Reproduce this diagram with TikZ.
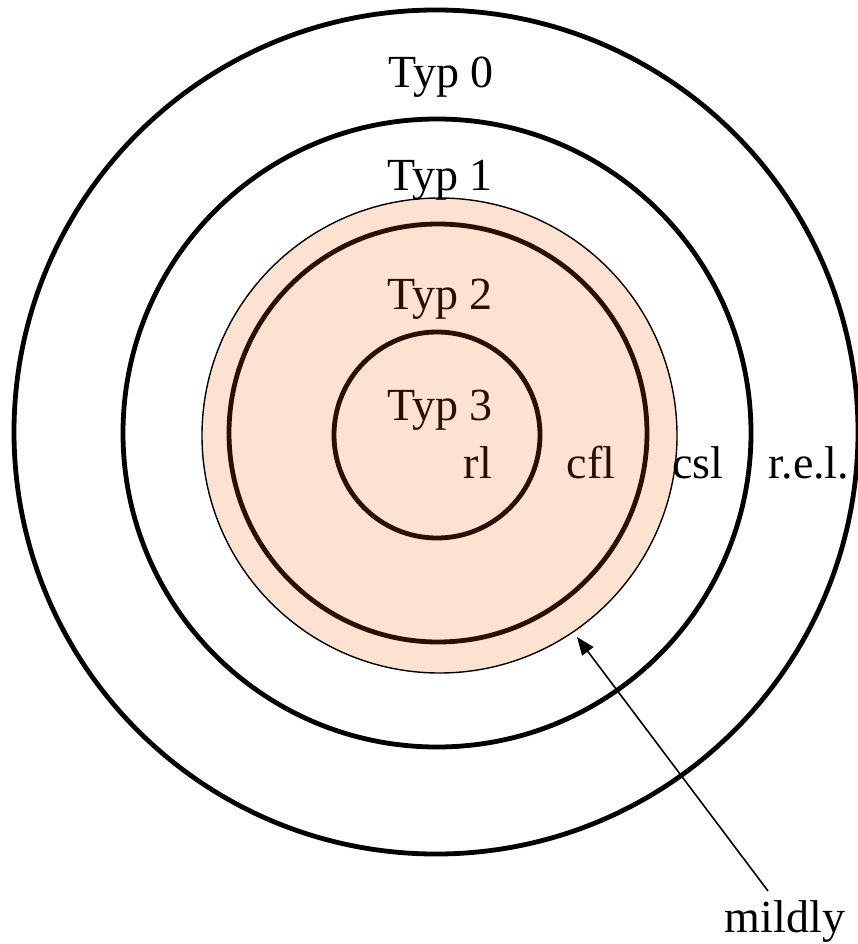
\documentclass[tikz,border=0pt]{standalone}
\usepackage{fontspec}
\setmainfont{Liberation Serif}
\usetikzlibrary{arrows.meta}
\definecolor{peach}{RGB}{253,226,210}
\definecolor{darkbrown}{RGB}{42,16,0}
\tikzset{
  ring/.style={draw=black, line width=4.8pt},
  brownring/.style={draw=darkbrown, line width=4.8pt},
  lbl/.style={font=\fontsize{46}{46}\selectfont, inner sep=0pt, anchor=base},
  brownlbl/.style={lbl, text=darkbrown},
  pointer/.style={line width=1.6pt, -{Triangle[length=18pt,width=14pt]}}
}
\begin{document}
\begin{tikzpicture}[x=1pt,y=-1pt]
\useasboundingbox (0,0) rectangle (858,944);
\fill[white] (0,0) rectangle (858,944);
% rings
\draw[ring] (436,432) circle[radius=422];
\draw[ring] (437,433) circle[radius=314];
\draw[fill=peach, draw=black, line width=1.4pt] (439.5,435.5) circle[radius=237.5];
\draw[brownring] (438,433) circle[radius=209];
\draw[brownring] (437,435) circle[radius=103];
% labels
\node[lbl] (typ0) at (441,88) {Typ 0};
\node[lbl] (typ1) at (440,190) {Typ 1};
\node[brownlbl] (typ2) at (440,309) {Typ 2};
\node[brownlbl] (typ3) at (440,420) {Typ 3};
\node[brownlbl] (rl) at (478,478) {rl};
\node[brownlbl] (cfl) at (591,478) {cfl};
\node[lbl] (csl) at (698,478) {csl};
\node[lbl] (rel) at (809,478) {r.e.l.};
\node[lbl] (mildly) at (785,932) {mildly};
% pointer
\coordinate (tail) at (768,891);
\coordinate (tip) at (577,637);
\draw[pointer] (tail) -- (tip);
\end{tikzpicture}
\end{document}
